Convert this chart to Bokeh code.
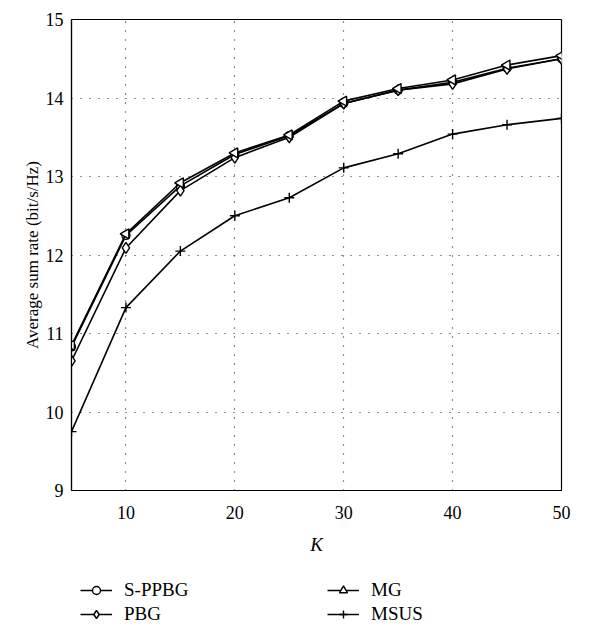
import numpy as np
from bokeh.plotting import figure
from bokeh.layouts import column
from bokeh.models import Legend, LegendItem, Range1d, FixedTicker
from bokeh.embed import file_html
from bokeh.resources import INLINE

K = [5, 10, 15, 20, 25, 30, 35, 40, 45, 50]
s_ppbg = [10.83, 12.25, 12.88, 13.28, 13.52, 13.93, 14.10, 14.20, 14.38, 14.50]
pbg = [10.65, 12.09, 12.82, 13.24, 13.50, 13.93, 14.10, 14.18, 14.37, 14.50]
mg = [10.85, 12.27, 12.92, 13.30, 13.53, 13.96, 14.12, 14.23, 14.42, 14.54]
msus = [9.75, 11.33, 12.05, 12.50, 12.73, 13.11, 13.29, 13.54, 13.66, 13.74]
labels = ["S-PPBG", "PBG", "MG", "MSUS"]
x_ticks = [10, 20, 30, 40, 50]
y_ticks = [9, 10, 11, 12, 13, 14, 15]

FONT = "Liberation Serif"

p = figure(width=584, height=560, output_backend="svg", toolbar_location=None,
           x_range=Range1d(5, 50), y_range=Range1d(9, 15),
           min_border_left=71, min_border_right=23, min_border_top=19, min_border_bottom=70)

p.outline_line_color = "black"
p.outline_line_width = 1.2

for ax in (p.xaxis[0], p.yaxis[0]):
    ax.major_label_text_font = FONT
    ax.major_label_text_font_size = "18px"
    ax.major_label_text_color = "black"
    ax.axis_label_text_font = FONT
    ax.axis_label_text_font_size = "17px"
    ax.axis_label_text_color = "black"
    ax.axis_label_text_font_style = "normal"
    ax.major_tick_in = 0
    ax.major_tick_out = 0
    ax.minor_tick_in = 0
    ax.minor_tick_out = 0
    ax.axis_line_color = "black"
    ax.axis_line_width = 1.2

p.xaxis.ticker = FixedTicker(ticks=x_ticks)
p.yaxis.ticker = FixedTicker(ticks=y_ticks)
p.xaxis.axis_label = "K"
p.xaxis.axis_label_text_font_style = "italic"
p.xaxis.axis_label_text_font_size = "19px"
p.yaxis.axis_label = "Average sum rate (bit/s/Hz)"
p.xaxis.major_label_standoff = 15
p.yaxis.major_label_standoff = 8
p.xaxis.axis_label_standoff = 12
p.yaxis.axis_label_standoff = 1

p.xgrid.ticker = FixedTicker(ticks=[10, 20, 30, 40])
p.ygrid.ticker = FixedTicker(ticks=[10, 11, 12, 13, 14])
for g in (p.xgrid[0], p.ygrid[0]):
    g.grid_line_color = "#222222"
    g.grid_line_dash = "1 8"
    g.grid_line_width = 1.2

lw = 1.6


def draw(fig, msize):
    r = []
    r.append((fig.line(K, s_ppbg, line_color="black", line_width=lw),
              fig.scatter(K, s_ppbg, marker="circle", size=8 * msize, fill_color="white", line_color="black", line_width=1.4)))
    r.append((fig.line(K, pbg, line_color="black", line_width=lw),
              fig.scatter(K, pbg, marker="diamond", size=11 * msize, fill_color="white", line_color="black", line_width=1.4)))
    r.append((fig.line(K, mg, line_color="black", line_width=lw),
              fig.scatter(K, mg, marker="triangle", angle=np.pi / 2, size=10 * msize, fill_color="white", line_color="black", line_width=1.4)))
    r.append((fig.line(K, msus, line_color="black", line_width=lw),
              fig.scatter(K, msus, marker="cross", size=10 * msize, line_color="black", line_width=1.4)))
    return r


draw(p, 1.0)

# legend strip below the plot (its data lie outside its view, only the legend is seen)
pl = figure(width=584, height=67, output_backend="svg", toolbar_location=None,
            x_range=Range1d(1000, 1001), y_range=Range1d(1000, 1001),
            x_axis_location=None, y_axis_location=None,
            min_border_left=0, min_border_right=0, min_border_top=0, min_border_bottom=0)
pl.outline_line_color = None
pl.xgrid.visible = False
pl.ygrid.visible = False
rends = draw(pl, 0.8)

leg = Legend(items=[LegendItem(label=lab, renderers=list(rr)) for lab, rr in zip(labels, rends)],
             location=(9, 2), orientation="vertical", ncols=2,
             label_text_font=FONT, label_text_font_size="19px", label_text_color="black",
             glyph_width=32, glyph_height=20, label_height=20, label_width=201, label_standoff=12,
             spacing=2, padding=0, margin=0, border_line_alpha=0,
             background_fill_alpha=0)
pl.add_layout(leg, "center")

layout = column(p, pl, spacing=0)
open("out.html", "w").write(file_html(layout, INLINE))
